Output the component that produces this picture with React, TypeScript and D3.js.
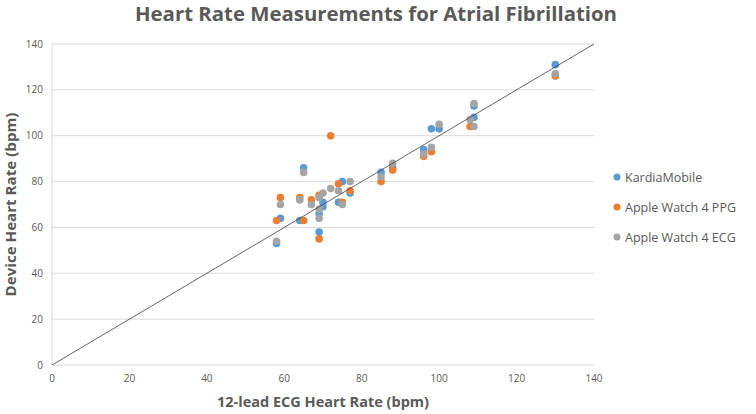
import * as d3 from 'd3';

// 12-lead ECG heart rate (x) vs device heart rate (y)
const kardiaX = [58, 59, 64, 65, 69, 69, 70, 70, 74, 75, 77, 85, 88, 96, 98, 100, 109, 109, 130];
const kardiaY = [53, 64, 63, 86, 58, 66, 71, 69, 71, 80, 75, 84, 86, 94, 103, 103, 108, 113, 131];

const ppgX = [58, 59, 64, 65, 67, 69, 69, 72, 74, 75, 77, 85, 88, 96, 98, 108, 130];
const ppgY = [63, 73, 73, 63, 72, 74, 55, 100, 79, 71, 76, 80, 85, 91, 93, 104, 126];

const ecgX = [58, 59, 64, 65, 67, 69, 69, 69, 70, 72, 74, 75, 77, 85, 88, 96, 98, 100, 108, 109, 109, 130];
const ecgY = [54, 70, 72, 84, 70, 73, 68, 64, 75, 77, 76, 70, 80, 82, 88, 92, 95, 105, 107, 104, 114, 127];

const seriesNames = ['KardiaMobile', 'Apple Watch 4 PPG', 'Apple Watch 4 ECG'];
const seriesColors = ['#5B9BD5', '#ED7D31', '#A5A5A5'];
const ticks = [0, 20, 40, 60, 80, 100, 120, 140];

const width = 756;
const height = 414;
const margin = { top: 44, right: 162, bottom: 49, left: 52 };

export default function App() {
  const x = d3.scaleLinear([0, 140], [margin.left, width - margin.right]);
  const y = d3.scaleLinear([0, 140], [height - margin.bottom, margin.top]);

  const series = [
    kardiaX.map((v, i) => [v, kardiaY[i]]),
    ppgX.map((v, i) => [v, ppgY[i]]),
    ecgX.map((v, i) => [v, ecgY[i]]),
  ];

  const identity = d3.line<number>((d) => x(d), (d) => y(d))([0, 140]);
  const font = "'Open Sans', sans-serif";
  const textColor = '#595959';

  return (
    <svg
      width={width}
      height={height}
      style={{ position: 'absolute', left: 0, top: 0, background: '#fff' }}
      fontFamily={font}
    >
      <text
        x={376}
        y={21}
        textAnchor='middle'
        fontSize={19}
        fontWeight='bold'
        fill={textColor}
        textLength={482}
        lengthAdjust='spacingAndGlyphs'
      >
        Heart Rate Measurements for Atrial Fibrillation
      </text>

      {ticks.map((t) => (
        <line
          key={'g' + t}
          x1={x(0)}
          x2={x(140)}
          y1={y(t)}
          y2={y(t)}
          stroke='#D9D9D9'
          strokeWidth={1}
        />
      ))}
      <line x1={x(0)} x2={x(0)} y1={y(0)} y2={y(140)} stroke='#D9D9D9' />

      {ticks.map((t) => (
        <text
          key={'y' + t}
          x={x(0) - 9}
          y={y(t) + 3.5}
          textAnchor='end'
          fontSize={10}
          fill={textColor}
        >
          {t}
        </text>
      ))}
      {ticks.map((t) => (
        <text
          key={'x' + t}
          x={x(t)}
          y={y(0) + 17}
          textAnchor='middle'
          fontSize={10}
          fill={textColor}
        >
          {t}
        </text>
      ))}

      <text
        x={(x(0) + x(140)) / 2}
        y={407}
        textAnchor='middle'
        fontSize={15}
        fontWeight='bold'
        fill={textColor}
        textLength={212}
        lengthAdjust='spacingAndGlyphs'
      >
        12-lead ECG Heart Rate (bpm)
      </text>
      <text
        transform={`translate(16,${(y(0) + y(140)) / 2}) rotate(-90)`}
        textAnchor='middle'
        fontSize={15}
        fontWeight='bold'
        fill={textColor}
        textLength={184}
        lengthAdjust='spacingAndGlyphs'
      >
        Device Heart Rate (bpm)
      </text>

      {series.map((pts, si) => (
        <g key={si} fill={seriesColors[si]}>
          {pts.map((p, i) => (
            <circle key={i} cx={x(p[0])} cy={y(p[1])} r={3.8} />
          ))}
        </g>
      ))}

      {identity && <path d={identity} fill='none' stroke='#404040' strokeWidth={0.8} />}

      {seriesNames.map((name, i) => (
        <g key={name} transform={`translate(617,${177 + i * 30})`}>
          <circle cx={0} cy={0} r={3.5} fill={seriesColors[i]} />
          <text x={8} y={4.5} fontSize={12.5} fill={textColor}>
            {name}
          </text>
        </g>
      ))}
    </svg>
  );
}
